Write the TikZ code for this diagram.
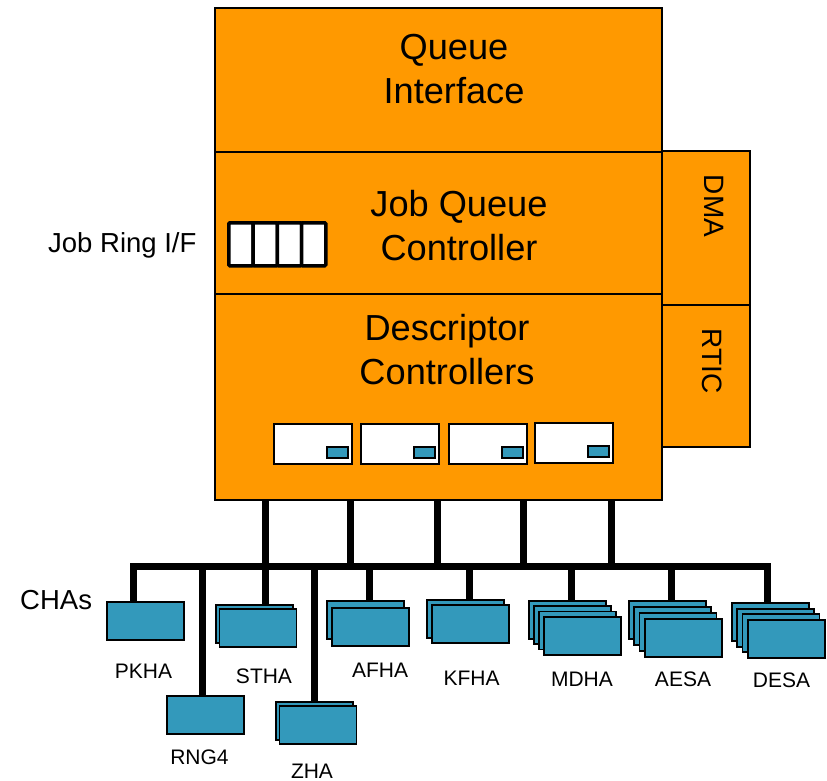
\documentclass[tikz,border=0pt]{standalone}
\usepackage{fontspec}
\setmainfont{Liberation Sans}
\usetikzlibrary{calc}
\definecolor{camorange}{HTML}{FF9900}
\definecolor{chablue}{HTML}{3399BB}
\newcommand\chastack[6]{%
  \node[cha] (#1) at (#2,#3) {};
  \ifnum#4>1
    \foreach \k in {2,...,#4}{\node[cha] (#1-\k) at ({#2+(\k-1)*#5},{#3+(\k-1)*#6}) {};}
  \fi}
\begin{document}
\begin{tikzpicture}[x=1pt,y=-1pt,
  panel/.style={draw=black, line width=1.8pt, fill=camorange, anchor=north west, inner sep=0pt, outer sep=0pt},
  bigtxt/.style={font=\fontsize{36.2}{44}\selectfont, align=center, inner sep=0pt},
  sidetxt/.style={font=\fontsize{28}{32}\selectfont, inner sep=0pt, rotate=-90},
  outtxt/.style={font=\fontsize{27.5}{32}\selectfont, inner sep=0pt},
  chatxt/.style={font=\fontsize{21}{24}\selectfont, inner sep=0pt},
  ringcell/.style={draw=black, line width=3.5pt, fill=white, anchor=north west, minimum width=24.25pt, minimum height=43pt, inner sep=0pt, rounded corners=1pt},
  descbox/.style={draw=black, line width=1.8pt, fill=white, anchor=north west, minimum width=78pt, minimum height=40pt, inner sep=0pt},
  descslot/.style={draw=black, line width=1.5pt, fill=chablue, anchor=south east, minimum width=21pt, minimum height=11pt, inner sep=0pt},
  cha/.style={draw=black, line width=1.8pt, fill=chablue, anchor=north west, minimum width=77pt, minimum height=38pt, inner sep=0pt},
  bus/.style={line width=7pt, draw=black, line join=miter}]
\useasboundingbox (0,0) rectangle (827,781);

% main block
\node[panel, minimum width=447pt, minimum height=144pt] (qi) at (215,8) {};
\node[panel, minimum width=447pt, minimum height=142pt] (jqc) at (215,152) {};
\node[panel, minimum width=447pt, minimum height=206pt] (dc) at (215,294) {};
\node[panel, minimum width=88pt, minimum height=154pt] (dma) at (662,151) {};
\node[panel, minimum width=88pt, minimum height=142pt] (rtic) at (662,305) {};

\node[bigtxt] (qi-t) at (454,69) {Queue\\Interface};
\node[bigtxt] (jqc-t) at (459,226) {Job Queue\\Controller};
\node[bigtxt] (dc-t) at (447,350) {Descriptor\\Controllers};
\node[sidetxt] (dma-t) at (714,206) {DMA};
\node[sidetxt] (rtic-t) at (712,361) {RTIC};

% job ring
\foreach \i in {0,1,2,3}{\node[ringcell] (jr\i) at ({227+\i*24.25},221) {};}
\node[outtxt, anchor=base west] (jr-t) at (48,252) {Job Ring I/F};

% descriptor controllers
\foreach \i/\x/\y in {1/273/423, 2/360/423, 3/448/423, 4/534/422}{
  \node[descbox] (dcb\i) at (\x,\y) {};
  \node[descslot] (dcs\i) at ($(dcb\i.south east)+(-4,-6)$) {};
}

% CHAs
\chastack{pkha}{106}{601}{1}{0}{0}
\chastack{rng}{166}{695}{1}{0}{0}
\chastack{stha}{215}{604}{2}{3.5}{4}
\chastack{zha}{275}{701}{2}{3.5}{4}
\chastack{afha}{326}{600}{2}{5}{7}
\chastack{kfha}{426}{599}{2}{5}{5}
\chastack{mdha}{528}{600}{4}{5.1}{5.3}
\chastack{aesa}{628}{600}{4}{5.3}{6}
\chastack{desa}{731}{602}{4}{5.3}{5.7}

\node[chatxt] (pkha-t) at (143.5,671.5) {PKHA};
\node[chatxt] (rng-t) at (199.5,757) {RNG4};
\node[chatxt] (stha-t) at (264,676) {STHA};
\node[chatxt] (zha-t) at (312,771) {ZHA};
\node[chatxt] (afha-t) at (380,670.5) {AFHA};
\node[chatxt] (kfha-t) at (471.5,678.5) {KFHA};
\node[chatxt] (mdha-t) at (582,679) {MDHA};
\node[chatxt] (aesa-t) at (683,679) {AESA};
\node[chatxt] (desa-t) at (781.5,680) {DESA};
\node[outtxt, anchor=base west] (chas-t) at (20,609) {CHAs};

% bus
\coordinate (busL) at (133,566);
\coordinate (busR) at (767,566);
\foreach \n/\x in {1/265, 2/350, 3/437, 4/523, 5/611}{\coordinate (up\n) at (\x,566);}
\foreach \n in {1,...,5}{\draw[bus] (dc.south -| up\n) -- (up\n);}
\draw[bus] (pkha.north -| busL) -- (busL) -- (busR) -- (busR |- desa.north);
\coordinate (d-rng) at (202,566);
\coordinate (d-zha) at (314,566);
\coordinate (d-afha) at (369,566);
\coordinate (d-kfha) at (469,566);
\coordinate (d-mdha) at (571,566);
\coordinate (d-aesa) at (671,566);
\draw[bus] (up1) -- (up1 |- stha.north);
\foreach \c in {rng,zha,afha,kfha,mdha,aesa}{\draw[bus] (d-\c) -- (d-\c |- \c.north);}
\end{tikzpicture}
\end{document}
